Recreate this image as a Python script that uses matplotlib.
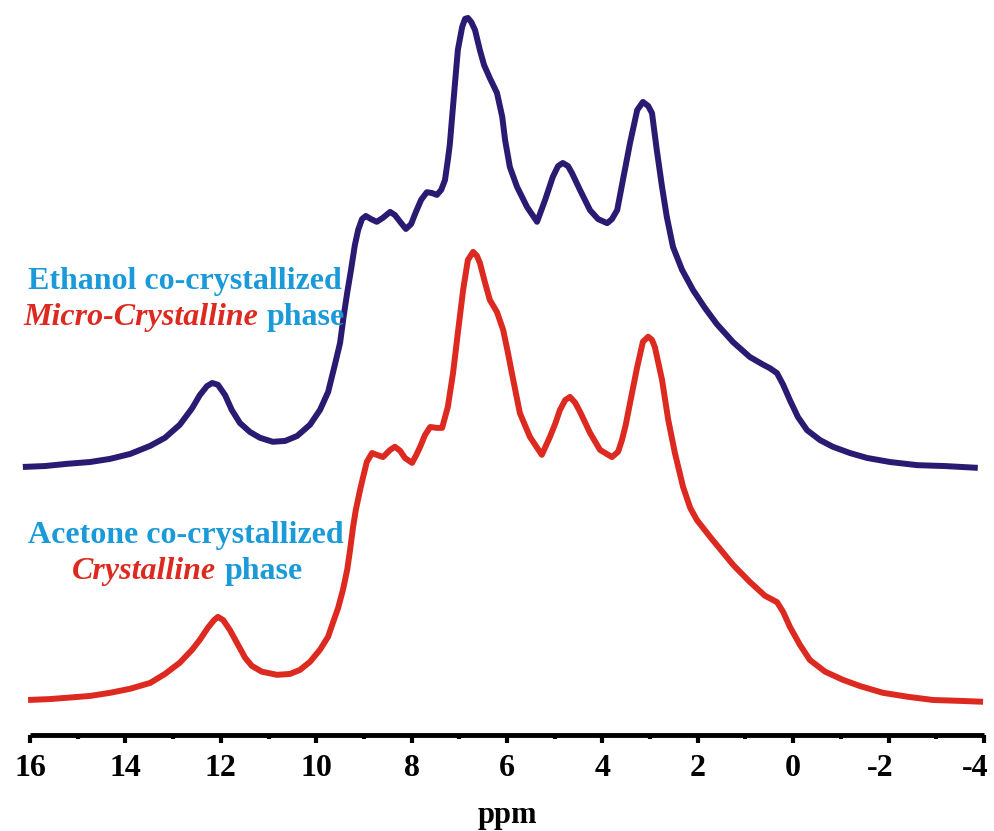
import matplotlib
matplotlib.use("Agg")
import matplotlib.pyplot as plt
import matplotlib.transforms as mtransforms
from matplotlib.ticker import MultipleLocator

# 1H MAS NMR traces, intensity in a.u. (main peak = 100)
ethanol_ppm = [16.15, 15.69, 15.22, 14.74, 14.32, 13.90, 13.48, 13.17, 12.86, 12.60,
               12.44, 12.29, 12.18, 12.06, 11.91, 11.77, 11.60, 11.39, 11.18, 10.91,
               10.65, 10.40, 10.13, 9.92, 9.75, 9.61, 9.50, 9.42, 9.35, 9.27,
               9.19, 9.12, 9.04, 8.96, 8.85, 8.73, 8.60, 8.45, 8.35, 8.24,
               8.12, 8.01, 7.91, 7.80, 7.68, 7.57, 7.47, 7.38, 7.30, 7.24,
               7.20, 7.15, 7.09, 7.03, 6.94, 6.88, 6.82, 6.75, 6.67, 6.57,
               6.48, 6.36, 6.21, 6.10, 6.04, 5.94, 5.79, 5.58, 5.37, 5.20,
               5.04, 4.93, 4.83, 4.72, 4.64, 4.47, 4.26, 4.09, 3.90, 3.80,
               3.69, 3.57, 3.42, 3.27, 3.15, 3.04, 2.96, 2.86, 2.75, 2.65,
               2.52, 2.33, 2.10, 1.85, 1.60, 1.26, 0.91, 0.65, 0.49, 0.34,
               0.21, 0.07, -0.10, -0.29, -0.56, -0.83, -1.19, -1.55, -2.03, -2.60,
               -3.18, -3.87]
ethanol_int = [0.0, 0.2, 0.7, 1.1, 1.8, 2.9, 4.7, 6.5, 9.4, 13.1,
               16.0, 18.0, 18.7, 18.3, 16.0, 12.7, 9.8, 7.8, 6.5, 5.6,
               5.8, 6.9, 9.4, 12.7, 16.7, 22.7, 27.6, 33.9, 38.8, 43.9,
               49.4, 52.8, 55.2, 55.9, 55.2, 54.6, 55.5, 56.8, 56.1, 54.6,
               53.0, 54.1, 56.8, 59.5, 61.2, 61.0, 60.6, 61.7, 63.9, 68.4,
               71.7, 78.0, 85.5, 92.9, 98.0, 99.8, 100.0, 99.1, 97.3, 92.9,
               89.5, 86.6, 83.3, 78.0, 72.8, 66.8, 62.4, 57.9, 54.6, 59.5,
               64.6, 67.0, 67.7, 67.0, 65.5, 61.7, 57.2, 55.2, 54.3, 55.2,
               57.2, 63.9, 72.2, 79.5, 81.3, 80.4, 78.8, 70.6, 62.4, 55.7,
               49.0, 43.9, 39.4, 35.4, 31.8, 27.8, 24.5, 22.9, 22.0, 20.9,
               18.3, 14.9, 11.1, 8.2, 6.0, 4.5, 3.1, 2.0, 1.1, 0.4,
               0.2, -0.2]

acetone_ppm = [16.04, 15.58, 15.22, 14.74, 14.32, 13.90, 13.48, 13.17, 12.86, 12.60,
               12.44, 12.27, 12.14, 12.06, 11.95, 11.81, 11.64, 11.49, 11.35, 11.14,
               10.82, 10.55, 10.34, 10.13, 9.92, 9.75, 9.65, 9.54, 9.44, 9.35,
               9.29, 9.23, 9.17, 9.08, 9.02, 8.94, 8.83, 8.73, 8.60, 8.45,
               8.35, 8.24, 8.14, 7.99, 7.91, 7.82, 7.72, 7.61, 7.47, 7.36,
               7.24, 7.13, 7.03, 6.92, 6.82, 6.71, 6.63, 6.57, 6.46, 6.36,
               6.21, 6.08, 5.98, 5.87, 5.73, 5.52, 5.27, 5.10, 4.99, 4.89,
               4.78, 4.68, 4.57, 4.47, 4.26, 4.05, 3.80, 3.67, 3.59, 3.51,
               3.42, 3.27, 3.15, 3.04, 2.96, 2.90, 2.75, 2.62, 2.48, 2.31,
               2.16, 2.02, 1.74, 1.26, 0.91, 0.59, 0.34, 0.21, 0.07, -0.14,
               -0.35, -0.67, -1.04, -1.40, -1.88, -2.41, -2.93, -3.50, -3.98]
acetone_int = [0.2, 0.4, 0.7, 1.1, 1.8, 2.7, 4.0, 6.0, 8.5, 11.4,
               13.6, 16.3, 18.0, 18.7, 18.0, 15.8, 12.5, 9.6, 7.8, 6.5,
               5.8, 6.0, 6.9, 8.7, 11.4, 14.3, 17.4, 20.7, 24.7, 29.2,
               33.6, 38.5, 42.5, 47.0, 49.7, 53.2, 55.2, 54.8, 54.3, 55.9,
               56.6, 55.7, 54.1, 53.0, 54.6, 56.6, 59.2, 61.0, 60.8, 60.8,
               65.5, 73.1, 82.0, 91.5, 98.2, 100.0, 99.1, 97.6, 93.1, 89.3,
               86.6, 82.6, 77.5, 71.5, 64.1, 58.8, 54.8, 58.8, 61.7, 64.8,
               67.0, 67.7, 66.4, 64.4, 59.7, 55.9, 54.3, 55.5, 58.1, 61.5,
               66.4, 74.4, 80.0, 81.1, 80.4, 78.8, 71.5, 62.6, 55.2, 47.7,
               43.0, 40.3, 36.5, 30.3, 26.5, 23.4, 22.0, 19.8, 16.5, 12.5,
               9.1, 6.5, 4.7, 3.3, 1.8, 0.9, 0.2, 0.0, -0.2]

stack_offset = 52.1
tick_ppm = [16, 14, 12, 10, 8, 6, 4, 2, 0, -2, -4]

navy = "#2a1a72"
red = "#dd2a20"
cyan = "#1a9ad8"

plt.rcParams["font.family"] = ["Liberation Serif", "DejaVu Serif"]
plt.rcParams["font.weight"] = "bold"

W, H = 995, 831
fig = plt.figure(figsize=(W / 100, H / 100), dpi=100)
ax = fig.add_axes([30 / W, 96 / H, 954 / W, 735 / H])

ax.plot(ethanol_ppm, [v + stack_offset for v in ethanol_int], color=navy, lw=4.3,
        solid_joinstyle="round", solid_capstyle="butt", clip_on=False)
ax.plot(acetone_ppm, acetone_int, color=red, lw=4.3,
        solid_joinstyle="round", solid_capstyle="butt", clip_on=False)

for side in ("top", "left", "right"):
    ax.spines[side].set_visible(False)
ax.spines["bottom"].set_linewidth(3.5)
ax.spines["bottom"].set_capstyle("butt")
ax.set_yticks([])
ax.set_xticks(tick_ppm)
ax.set_xticklabels([f"{t}" for t in tick_ppm], fontweight="bold")
ax.xaxis.set_minor_locator(MultipleLocator(1))
ax.set_xlim(16, -4)
ax.set_ylim(-7.6, 156.1)
ax.tick_params(axis="x", which="major", direction="out", length=6, width=3,
               labelsize=23, pad=8)
ax.tick_params(axis="x", which="minor", direction="out", length=3, width=3)
# the leading hyphen makes negative labels look off-centre; nudge them left
nudge = mtransforms.ScaledTranslation(-6 / 72, 0, fig.dpi_scale_trans)
for t, lab in zip(tick_ppm, ax.get_xticklabels()):
    if t < 0:
        lab.set_transform(lab.get_transform() + nudge)
ax.set_xlabel("ppm", fontsize=22, fontweight="bold", labelpad=13)


def label_line(parts, x_px, y_px):
    """Draw a run of differently styled text pieces left to right."""
    prev = None
    for text, color, style in parts:
        kw = dict(color=color, fontsize=23, fontweight="bold", fontstyle=style,
                  va="center")
        if prev is None:
            prev = fig.text(x_px / W, 1 - y_px / H, text, ha="left", **kw)
        else:
            prev = ax.annotate(text, xy=(1, 0.5), xycoords=prev,
                               xytext=(6, 0), textcoords="offset points",
                               ha="left", annotation_clip=False, **kw)


label_line([("Ethanol co-crystallized", cyan, "normal")], 28, 282)
label_line([("Micro-Crystalline", red, "italic"), ("phase", cyan, "normal")], 23, 317)
label_line([("Acetone co-crystallized", cyan, "normal")], 28, 536)
label_line([("Crystalline", red, "italic"), ("phase", cyan, "normal")], 72, 571)

fig.savefig("out.png", dpi=100)
